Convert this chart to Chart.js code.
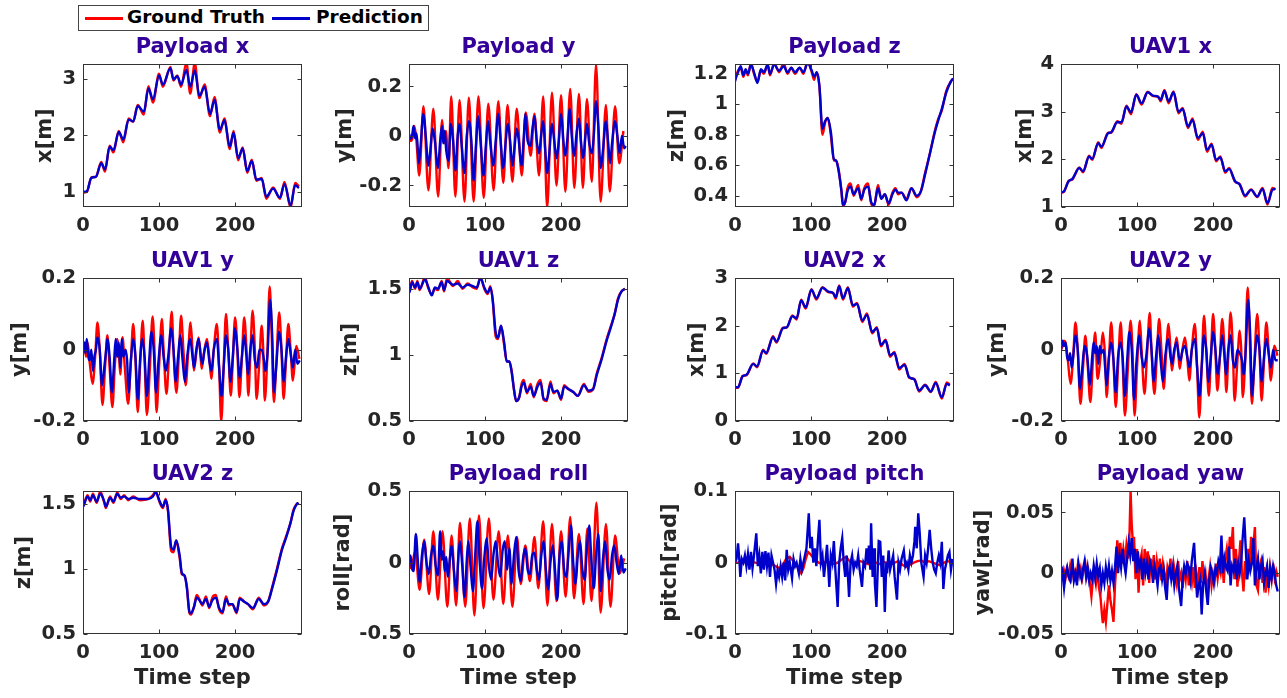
<!DOCTYPE html>
<html><head><meta charset="utf-8">
<script src="https://cdn.jsdelivr.net/npm/chart.js@4/dist/chart.umd.min.js"></script>
<style>
html,body{margin:0;padding:0;background:#fff;}
body{width:1287px;height:698px;overflow:hidden;position:relative;font-family:"DejaVu Sans";}
#lg{position:absolute;left:78px;top:5px;width:349px;height:24px;border:1px solid #444;background:#fff;font:bold 18.5px "DejaVu Sans";color:#000;}
#lg span{position:absolute;white-space:nowrap;}
</style></head>
<body>
<div id="lg">
  <span style="left:6px;top:11px;width:38px;height:2.5px;background:#ff0000"></span>
  <span style="left:48px;top:0px;">Ground Truth</span>
  <span style="left:193px;top:11px;width:38px;height:2.5px;background:#0000cc"></span>
  <span style="left:237px;top:0px;">Prediction</span>
</div>
<script>
// ---------- labels / ticks ----------
const titles = ['Payload x','Payload y','Payload z','UAV1 x','UAV1 y','UAV1 z','UAV2 x','UAV2 y','UAV2 z','Payload roll','Payload pitch','Payload yaw'];
const yLabels = ['x[m]','y[m]','z[m]','x[m]','y[m]','z[m]','x[m]','y[m]','z[m]','roll[rad]','pitch[rad]','yaw[rad]'];
const xLabel = 'Time step';
const xTicks = [0,100,200];
const xMax = 288;
const yTicksList = [[1,2,3],[-0.2,0,0.2],[0.4,0.6,0.8,1,1.2],[1,2,3,4],[-0.2,0,0.2],[0.5,1,1.5],[0,1,2,3],[-0.2,0,0.2],[0.5,1,1.5],[-0.5,0,0.5],[-0.1,0,0.1],[-0.05,0,0.05]];
const yMin = [0.735,-0.287,0.326,1,-0.2,0.5,0,-0.2,0.5,-0.5,-0.1,-0.05];
const yMax = [3.26,0.29,1.263,4,0.2,1.58,3,0.2,1.6,0.5,0.1,0.0675];

// ---------- data: [time step, value] ----------
const payloadX_gt = [[0,0.99],[5,1.0],[11,1.26],[17,1.27],[24,1.53],[29,1.36],[35,1.82],[40,1.70],[47,2.08],[53,1.88],[60,2.30],[66,2.24],[72,2.54],[80,2.37],[86,2.87],[92,2.58],[100,3.09],[105,2.86],[115,3.21],[119,2.97],[124,3.06],[129,2.86],[136,3.29],[141,2.74],[147,3.28],[153,2.66],[160,2.90],[167,2.34],[173,2.68],[180,2.05],[186,2.30],[193,1.76],[198,2.08],[204,1.56],[210,1.79],[216,1.34],[222,1.57],[228,1.20],[235,1.25],[241,0.88],[250,1.08],[259,0.88],[265,1.18],[273,0.72],[279,1.16],[284,1.10]];
const payloadX_pred = [[0,1.0],[5,1.01],[11,1.25],[17,1.27],[24,1.51],[29,1.40],[35,1.80],[40,1.74],[47,2.06],[53,1.93],[60,2.28],[66,2.25],[72,2.52],[80,2.42],[86,2.83],[92,2.64],[100,3.06],[105,2.90],[115,3.19],[119,2.99],[124,3.05],[129,2.90],[136,3.16],[141,2.86],[147,3.15],[153,2.70],[160,2.86],[167,2.38],[173,2.63],[180,2.10],[186,2.27],[193,1.80],[198,2.05],[204,1.60],[210,1.77],[216,1.37],[222,1.55],[228,1.22],[235,1.23],[241,0.92],[250,1.06],[259,0.90],[265,1.14],[273,0.76],[279,1.12],[284,1.07]];

const payloadY_gt = [[0,0.0],[2,-0.02],[4.5,-0.01],[7,0.04],[9.5,-0.01],[13.5,-0.16],[19,0.12],[25.5,-0.22],[32,0.11],[38.3,-0.245],[43.5,0.065],[46.5,-0.03],[48.5,0.02],[52,-0.13],[55.5,0.16],[61,-0.245],[66.5,0.145],[73,-0.265],[78.7,0.155],[85,-0.265],[91.3,0.16],[98.3,-0.25],[104.3,0.13],[111.3,-0.22],[117.4,0.14],[124,-0.19],[129.6,0.125],[136,-0.185],[141.7,0.11],[148.3,-0.16],[153.5,0.095],[160,-0.08],[165,0.09],[171,-0.16],[176.5,0.16],[181.7,-0.29],[188,0.175],[194,-0.2],[200,0.165],[205.6,-0.225],[212,0.19],[217.4,-0.21],[223.5,0.17],[228.7,-0.21],[234,0.15],[240.4,-0.185],[246,0.29],[252,-0.265],[259,0.125],[264,-0.225],[271,0.12],[276.5,-0.11],[282,0.02]];
const payloadY_pred = [[0,0.01],[2,-0.01],[4,0.0],[6,0.04],[8,-0.01],[10,0.01],[13,-0.11],[15,-0.05],[19,0.09],[22,0.0],[25.5,-0.12],[28,-0.06],[31,0.03],[34,-0.02],[38,-0.13],[41,-0.02],[43.5,0.04],[45,-0.03],[47,0.02],[49,-0.06],[52,-0.1],[55,0.05],[58,-0.02],[61,-0.14],[64,0.0],[66.5,0.05],[69,-0.03],[73,-0.15],[76,0.0],[79,0.06],[82,-0.02],[85,-0.18],[88,-0.04],[91,0.08],[94,-0.02],[98,-0.16],[101,-0.04],[104,0.06],[107,-0.03],[111,-0.12],[114,-0.02],[117.5,0.09],[120,0.0],[124,-0.13],[127,-0.03],[130,0.05],[133,-0.02],[136,-0.12],[139,-0.04],[141.5,0.03],[144,-0.01],[148,-0.12],[151,0.0],[153,0.09],[156,-0.02],[160,-0.04],[162,0.02],[165,0.08],[168,-0.02],[171,-0.07],[174,0.01],[176.5,0.06],[179,-0.05],[182,-0.15],[185,-0.05],[188,0.05],[191,-0.02],[194,-0.09],[197,-0.02],[200,0.09],[203,-0.02],[205.5,-0.08],[208,-0.02],[211.5,0.11],[214,0.0],[217.5,-0.08],[220,0.0],[223.5,0.07],[226,-0.02],[229,-0.09],[232,0.0],[234,0.05],[237,-0.03],[240.5,-0.07],[243,0.0],[246,0.14],[249,0.04],[252,-0.13],[255,-0.06],[259,0.06],[262,-0.03],[264.5,-0.11],[267,-0.03],[271,0.06],[274,0.0],[277,-0.07],[280,0.0],[283,-0.05],[285,-0.04]];

const payloadZ_gt = [[0,1.16],[1,1.18],[4,1.22],[7.5,1.24],[11,1.18],[14,1.22],[17,1.19],[21,1.27],[25,1.20],[29.5,1.15],[34,1.22],[38,1.20],[43,1.26],[46,1.19],[51.5,1.27],[58,1.21],[64,1.27],[69,1.20],[74,1.24],[79,1.20],[85,1.24],[90,1.20],[95.5,1.28],[101,1.21],[104,1.16],[107.5,1.21],[111,1.12],[115,0.80],[118.5,0.88],[122,0.91],[126,0.80],[130,0.63],[133,0.63],[136,0.58],[140,0.43],[142,0.33],[145,0.36],[148,0.45],[152,0.48],[156,0.40],[162,0.47],[166,0.37],[170,0.45],[175,0.48],[179,0.35],[183,0.33],[188,0.47],[192.5,0.38],[197,0.41],[202,0.34],[207,0.42],[211,0.45],[214.5,0.41],[219,0.42],[225.5,0.38],[232,0.45],[239,0.39],[244.5,0.43],[250,0.55],[256,0.67],[263,0.83],[267,0.90],[272,0.96],[278,1.09],[284,1.15],[287,1.17]];
const payloadZ_pred = [[0,1.15],[1,1.17],[4,1.21],[7.5,1.25],[11,1.19],[14,1.23],[17,1.20],[21,1.26],[25,1.21],[29.5,1.14],[34,1.23],[38,1.21],[43,1.26],[46,1.20],[51.5,1.26],[58,1.22],[64,1.25],[69,1.21],[74,1.24],[79,1.21],[85,1.24],[90,1.21],[95.5,1.27],[101,1.22],[104,1.18],[107.5,1.21],[111,1.12],[115,0.84],[118.5,0.89],[122,0.91],[126,0.82],[130,0.64],[133,0.63],[136,0.57],[140,0.43],[142,0.34],[145,0.36],[148,0.43],[152,0.46],[156,0.41],[162,0.45],[166,0.38],[170,0.44],[175,0.46],[179,0.36],[183,0.34],[188,0.45],[192.5,0.38],[197,0.41],[202,0.35],[207,0.41],[211,0.44],[214.5,0.42],[219,0.42],[225.5,0.37],[232,0.45],[239,0.40],[244.5,0.43],[250,0.54],[256,0.67],[263,0.82],[267,0.89],[272,0.97],[278,1.08],[284,1.15],[287,1.17]];

const uav1X_gt = [[1,1.30],[4,1.32],[10,1.55],[15,1.58],[24,1.83],[29,1.73],[37,2.08],[41,1.99],[49,2.36],[53,2.24],[62,2.56],[66,2.56],[74,2.80],[79.5,2.75],[86,3.13],[92,2.95],[99,3.37],[106,3.15],[114,3.42],[121,3.33],[127.5,3.32],[131,3.22],[136,3.46],[141.5,3.18],[148,3.43],[154.5,2.97],[160,3.08],[167,2.66],[173,2.86],[180,2.41],[186.5,2.58],[192,2.16],[198,2.33],[204,1.96],[209.5,2.06],[216,1.72],[221,1.82],[229,1.53],[235,1.48],[242,1.22],[250,1.37],[258,1.21],[265,1.40],[271.5,1.05],[278,1.40],[282,1.37]];
const uav1X_pred = [[1,1.31],[4,1.33],[10,1.54],[15,1.59],[24,1.82],[29,1.75],[37,2.06],[41,2.01],[49,2.34],[53,2.27],[62,2.55],[66,2.57],[74,2.78],[79.5,2.78],[86,3.11],[92,2.99],[99,3.36],[106,3.18],[114,3.41],[121,3.34],[127.5,3.32],[131,3.25],[136,3.44],[141.5,3.22],[148,3.41],[154.5,3.00],[160,3.06],[167,2.69],[173,2.83],[180,2.45],[186.5,2.55],[192,2.20],[198,2.31],[204,1.99],[209.5,2.04],[216,1.75],[221,1.80],[229,1.54],[235,1.47],[242,1.24],[250,1.36],[258,1.22],[265,1.38],[271.5,1.08],[278,1.36],[282,1.38]];

const uav1Y_gt = [[0,0.0],[2,0.01],[4,-0.02],[6,0.02],[9,-0.04],[12.6,-0.096],[16,-0.02],[19,0.076],[22,0.0],[25.6,-0.155],[29,-0.05],[32,0.04],[35,-0.05],[38.6,-0.161],[42,-0.04],[45,0.03],[47,0.0],[49,-0.07],[52,0.035],[55,-0.05],[59.4,-0.152],[63,-0.03],[66,0.072],[69,-0.03],[72,-0.175],[75,-0.05],[78.5,0.081],[81,-0.03],[84,-0.183],[88,-0.05],[91.5,0.093],[94,0.0],[96.7,-0.175],[100,-0.05],[103.7,0.086],[106,0.0],[109.8,-0.124],[113,-0.02],[116.7,0.106],[119,0.0],[122.8,-0.121],[126,-0.02],[129,0.095],[132,0.0],[135,-0.1],[138,-0.02],[141.4,0.076],[144,0.0],[145.8,-0.059],[149,-0.01],[152,0.034],[154,0.0],[156,-0.054],[159,-0.01],[163,0.03],[166,-0.02],[168.7,-0.082],[172,0.0],[176,0.072],[179,-0.05],[181.8,-0.2],[185,-0.05],[188,0.1],[191,0.0],[194.4,-0.129],[197,-0.03],[200,0.09],[203,0.0],[205.6,-0.133],[209,-0.02],[212,0.09],[215,0.0],[217.4,-0.129],[220,-0.02],[223,0.109],[226,0.0],[228.2,-0.138],[232,-0.03],[235,0.067],[237,0.0],[239,-0.143],[242,-0.04],[245.5,0.177],[248,0.05],[251,-0.147],[254,-0.05],[258,0.104],[261,0.0],[263.8,-0.138],[267,-0.03],[270,0.072],[273,0.0],[276,-0.087],[279,-0.02],[280.5,0.01],[284.6,-0.026]];
const uav1Y_pred = [[0,0.0],[2,0.02],[3,-0.01],[5,0.03],[7,-0.02],[9,-0.03],[11,0.0],[13,-0.06],[15,-0.02],[17,0.0],[19,0.035],[22,0.0],[25,-0.1],[28,-0.05],[31,0.01],[32,0.03],[35,-0.02],[38,-0.12],[41,-0.03],[43,0.03],[45,-0.02],[47,0.02],[49,-0.05],[51,0.03],[53,-0.02],[56,0.0],[58,-0.03],[60,-0.12],[63,-0.03],[66,0.03],[69,-0.02],[72,-0.14],[75,-0.03],[78,0.03],[81,-0.02],[84,-0.13],[87,-0.03],[90,0.05],[93,0.0],[96,-0.12],[99,-0.04],[103,0.04],[106,-0.02],[109,-0.06],[112,-0.02],[116,0.06],[119,0.0],[122,-0.09],[125,-0.02],[128,0.04],[131,-0.03],[134,-0.09],[137,-0.02],[141,0.03],[144,-0.02],[146,-0.05],[149,0.0],[152,0.03],[155,-0.02],[157,-0.04],[160,0.0],[163,0.02],[166,-0.03],[169,-0.06],[172,0.0],[176,0.03],[179,-0.05],[182,-0.13],[185,-0.05],[188,0.04],[191,0.0],[194,-0.09],[197,-0.02],[200,0.06],[203,0.0],[206,-0.08],[209,-0.02],[212,0.04],[215,-0.02],[217,-0.07],[220,0.0],[223,0.04],[226,-0.03],[229,-0.05],[232,0.0],[235,0.0],[238,-0.03],[240,-0.06],[243,0.0],[246,0.14],[249,0.03],[251,-0.12],[254,-0.05],[258,0.05],[261,0.0],[264,-0.09],[267,-0.02],[270,0.03],[273,-0.01],[276,-0.05],[279,0.0],[282,-0.04],[285,-0.03]];

const uav1Z_gt = [[0,1.48],[1,1.49],[4,1.56],[8,1.50],[11,1.56],[14,1.49],[21,1.59],[25,1.51],[30,1.46],[34,1.50],[38,1.49],[43,1.56],[46,1.48],[50,1.58],[58,1.52],[64,1.56],[70.5,1.50],[77,1.54],[84,1.51],[89,1.50],[94,1.59],[99,1.50],[103.5,1.46],[107,1.52],[110,1.42],[114,1.14],[117,1.12],[121,1.22],[125,1.08],[128.5,0.95],[132,0.95],[135,0.88],[138,0.74],[141,0.65],[145,0.68],[148,0.78],[151,0.81],[155,0.71],[160,0.78],[164,0.68],[169,0.78],[173,0.81],[177,0.66],[181,0.65],[186,0.80],[190,0.71],[195,0.73],[200,0.66],[204,0.77],[210,0.74],[216,0.72],[222,0.69],[230,0.78],[236,0.72],[242,0.74],[247,0.86],[253.5,0.98],[260,1.12],[265,1.21],[270.5,1.31],[275,1.43],[279.5,1.48],[284,1.50]];
const uav1Z_pred = [[0,1.47],[1,1.48],[4,1.55],[8,1.51],[11,1.55],[14,1.50],[21,1.57],[25,1.52],[30,1.45],[34,1.51],[38,1.50],[43,1.55],[46,1.49],[50,1.56],[58,1.53],[64,1.54],[70.5,1.51],[77,1.53],[84,1.52],[89,1.51],[94,1.58],[99,1.51],[103.5,1.47],[107,1.51],[110,1.42],[114,1.17],[117,1.13],[121,1.22],[125,1.10],[128.5,0.95],[132,0.95],[135,0.87],[138,0.74],[141,0.65],[145,0.68],[148,0.76],[151,0.79],[155,0.72],[160,0.76],[164,0.69],[169,0.76],[173,0.79],[177,0.67],[181,0.66],[186,0.78],[190,0.72],[195,0.73],[200,0.67],[204,0.76],[210,0.74],[216,0.72],[222,0.69],[230,0.77],[236,0.73],[242,0.74],[247,0.85],[253.5,0.97],[260,1.11],[265,1.20],[270.5,1.31],[275,1.42],[279.5,1.48],[284,1.50]];

const uav2X_gt = [[1,0.70],[4,0.70],[10,0.95],[15,0.96],[24,1.21],[29,1.13],[37,1.50],[41,1.41],[50,1.78],[54.5,1.65],[63,1.96],[68,1.96],[75.5,2.22],[81,2.13],[87,2.55],[93,2.36],[100.5,2.77],[107,2.55],[115,2.81],[122.5,2.71],[129,2.69],[132.5,2.57],[137,2.85],[142,2.55],[148.5,2.81],[155,2.40],[160.5,2.48],[167.5,2.08],[173.5,2.26],[180.5,1.84],[186.5,1.97],[192,1.57],[198,1.71],[204,1.35],[209.5,1.45],[216,1.08],[223,1.20],[229,0.91],[236,0.88],[242,0.62],[250,0.76],[257.5,0.61],[264,0.82],[272,0.47],[278.5,0.81],[282.5,0.76]];
const uav2X_pred = [[1,0.71],[4,0.71],[10,0.94],[15,0.97],[24,1.20],[29,1.15],[37,1.48],[41,1.43],[50,1.76],[54.5,1.67],[63,1.95],[68,1.97],[75.5,2.20],[81,2.16],[87,2.53],[93,2.39],[100.5,2.76],[107,2.58],[115,2.80],[122.5,2.72],[129,2.69],[132.5,2.60],[137,2.83],[142,2.58],[148.5,2.79],[155,2.43],[160.5,2.46],[167.5,2.11],[173.5,2.23],[180.5,1.87],[186.5,1.95],[192,1.60],[198,1.69],[204,1.38],[209.5,1.43],[216,1.11],[223,1.18],[229,0.92],[236,0.87],[242,0.64],[250,0.75],[257.5,0.62],[264,0.80],[272,0.50],[278.5,0.78],[282.5,0.75]];

const uav2Y_gt = [[0,0.0],[2,0.01],[4,0.025],[6,0.02],[9,-0.03],[12.6,-0.096],[16,-0.02],[19,0.076],[22,0.0],[25.6,-0.152],[29,-0.05],[32,0.039],[35,-0.04],[38.6,-0.147],[42,-0.03],[45,0.048],[48,-0.082],[52,-0.02],[55,0.048],[58,-0.02],[60,-0.133],[63,-0.03],[66,0.076],[69,-0.03],[72,-0.161],[75,-0.05],[78.5,0.076],[81,-0.03],[84,-0.185],[88,-0.05],[91.5,0.081],[94,0.0],[96.7,-0.185],[100,-0.05],[103.7,0.081],[106,0.0],[109.8,-0.124],[113,-0.02],[116.7,0.103],[119,0.0],[122.8,-0.124],[126,-0.02],[129,0.086],[132,0.0],[135,-0.11],[138,-0.02],[141.4,0.072],[144,0.0],[145.8,-0.059],[149,-0.01],[152,0.034],[154,0.0],[156,-0.054],[159,-0.01],[163,0.034],[166,-0.02],[168.7,-0.087],[172,0.0],[176,0.072],[179,-0.05],[181.8,-0.19],[185,-0.05],[188,0.095],[191,0.0],[194.4,-0.129],[197,-0.03],[200,0.1],[203,0.0],[205.6,-0.115],[209,-0.02],[212,0.086],[215,0.0],[217.4,-0.119],[220,-0.02],[223,0.104],[226,0.0],[228.2,-0.143],[232,-0.03],[235,0.053],[237,0.0],[239,-0.133],[242,-0.04],[245.5,0.174],[248,0.05],[251,-0.152],[254,-0.05],[258,0.1],[261,0.0],[263.8,-0.143],[267,-0.03],[270,0.076],[273,0.0],[276,-0.087],[279,-0.02],[280.5,0.011],[284.6,-0.017]];
const uav2Y_pred = [[0,0.0],[2,0.025],[4,0.01],[6,0.02],[8,-0.02],[10,-0.03],[12,-0.01],[14,-0.05],[16,-0.02],[19,0.04],[22,0.0],[25,-0.11],[28,-0.05],[31,0.01],[33,0.0],[35,-0.03],[38,-0.1],[41,-0.02],[43,0.02],[45,-0.01],[47,0.01],[49,-0.04],[51,0.01],[53,-0.01],[56,0.0],[58,-0.05],[60,-0.1],[63,-0.02],[66,0.02],[69,-0.03],[72,-0.12],[75,-0.02],[78,0.02],[81,-0.02],[84,-0.13],[87,-0.03],[90,0.05],[93,0.0],[96,-0.14],[99,-0.04],[103,0.04],[106,-0.02],[109,-0.05],[112,-0.02],[116,0.06],[119,0.0],[122,-0.09],[125,-0.02],[128,0.04],[131,-0.03],[134,-0.09],[137,-0.02],[141,0.03],[144,-0.02],[146,-0.04],[149,0.0],[152,0.02],[155,-0.02],[157,-0.03],[160,0.0],[163,0.01],[166,-0.02],[169,-0.05],[172,0.0],[176,0.03],[179,-0.05],[182,-0.13],[185,-0.05],[188,0.04],[191,0.0],[194,-0.09],[197,-0.02],[200,0.05],[203,0.0],[206,-0.07],[209,-0.02],[212,0.04],[215,-0.02],[217,-0.07],[220,0.0],[223,0.04],[226,-0.03],[229,-0.05],[232,0.0],[235,-0.01],[238,-0.03],[240,-0.07],[243,0.0],[246,0.14],[249,0.03],[251,-0.13],[254,-0.05],[258,0.04],[261,0.0],[264,-0.09],[267,-0.02],[270,0.03],[273,-0.01],[276,-0.05],[279,0.0],[282,-0.03],[285,-0.03]];

const uav2Z_gt = [[0,1.49],[1,1.50],[6,1.57],[9.5,1.52],[13,1.58],[18,1.51],[22.6,1.60],[28,1.51],[30,1.47],[35.6,1.56],[40,1.51],[45,1.59],[49.6,1.54],[54,1.57],[59.6,1.53],[66,1.56],[75,1.53],[85.6,1.54],[92,1.57],[95.6,1.60],[101,1.51],[105,1.47],[108.7,1.54],[111.7,1.45],[116,1.14],[119,1.13],[122.6,1.22],[127,1.09],[130,0.96],[133.5,0.95],[136.5,0.87],[140,0.66],[142,0.65],[146,0.71],[149.5,0.80],[153,0.77],[157,0.72],[161.7,0.79],[166,0.70],[170,0.78],[174.7,0.80],[179,0.69],[183.5,0.66],[188,0.79],[192,0.72],[196.5,0.73],[202,0.66],[206,0.78],[211.7,0.75],[217,0.73],[223.5,0.69],[231,0.78],[238,0.72],[243.5,0.75],[248.7,0.86],[255,1.00],[261.7,1.16],[267,1.25],[272.6,1.35],[277,1.46],[281,1.50],[283.5,1.51]];
const uav2Z_pred = [[0,1.48],[1,1.49],[6,1.56],[9.5,1.53],[13,1.57],[18,1.52],[22.6,1.58],[28,1.52],[30,1.48],[35.6,1.55],[40,1.52],[45,1.58],[49.6,1.55],[54,1.56],[59.6,1.54],[66,1.55],[75,1.54],[85.6,1.54],[92,1.56],[95.6,1.59],[101,1.52],[105,1.48],[108.7,1.53],[111.7,1.46],[116,1.17],[119,1.15],[122.6,1.22],[127,1.11],[130,0.97],[133.5,0.95],[136.5,0.86],[140,0.67],[142,0.66],[146,0.71],[149.5,0.78],[153,0.76],[157,0.73],[161.7,0.77],[166,0.71],[170,0.76],[174.7,0.78],[179,0.70],[183.5,0.67],[188,0.77],[192,0.73],[196.5,0.73],[202,0.67],[206,0.77],[211.7,0.75],[217,0.73],[223.5,0.70],[231,0.77],[238,0.73],[243.5,0.75],[248.7,0.85],[255,0.99],[261.7,1.15],[267,1.24],[272.6,1.35],[277,1.45],[281,1.50],[283.5,1.51]];

const roll_gt = [[0,0.0],[3,-0.04],[8,0.08],[14,-0.19],[20,0.16],[26.5,-0.22],[32,0.22],[38,-0.26],[44,0.22],[50.4,-0.31],[56,0.19],[62,-0.30],[67,0.28],[74,-0.31],[80,0.31],[86,-0.37],[92,0.33],[98,-0.32],[105,0.31],[111,-0.26],[118,0.22],[124,-0.29],[130,0.19],[136,-0.31],[142,0.18],[147,-0.15],[153,0.12],[159,-0.13],[165,0.18],[170,-0.18],[176.5,0.29],[182,-0.30],[188,0.27],[194,-0.27],[200,0.22],[206,-0.24],[212,0.32],[217,-0.25],[223.5,0.20],[229.6,-0.29],[234.5,0.24],[240,-0.27],[246.5,0.42],[252,-0.35],[259,0.27],[265,-0.31],[271,0.19],[277,-0.075],[283,0.03]];
const roll_pred = [[0,0.0],[2,0.05],[4,-0.04],[6,-0.06],[9,0.2],[12,-0.02],[14,-0.14],[17,0.05],[20,0.15],[23,0.0],[26,-0.08],[29,0.05],[32,0.12],[35,-0.02],[38,-0.09],[41,0.22],[43,0.02],[45,0.08],[47,-0.06],[49,0.04],[51,-0.1],[54,0.04],[56,0.12],[59,-0.05],[62,-0.2],[65,0.05],[67,0.15],[70,-0.02],[73,-0.24],[76,0.02],[78,0.15],[81,-0.03],[84,-0.2],[87,0.05],[90,0.29],[93,0.0],[96,-0.18],[99,0.03],[102,0.17],[105,-0.02],[108,-0.12],[111,0.05],[114,0.15],[117,0.0],[120,-0.1],[123,0.08],[126,0.15],[129,-0.05],[132,0.1],[135,-0.15],[138,0.05],[141,0.18],[144,-0.05],[147,-0.13],[150,0.03],[153,0.1],[156,-0.05],[159,-0.08],[162,0.05],[165,0.07],[168,-0.05],[171,-0.12],[174,0.05],[177,0.15],[180,-0.05],[183,-0.19],[186,0.0],[189,0.12],[192,-0.05],[195,-0.26],[198,0.05],[201,0.15],[204,-0.05],[207,-0.1],[210,0.08],[213,0.26],[216,0.0],[219,-0.15],[222,0.05],[225,0.15],[228,-0.05],[231,-0.12],[234,0.1],[237,0.26],[240,0.0],[243,-0.18],[246,0.05],[249,0.2],[252,-0.2],[255,0.02],[258,0.15],[261,-0.05],[264,-0.12],[267,0.05],[270,0.12],[273,0.0],[276,-0.08],[279,0.05],[282,-0.07],[285,-0.04]];

const pitch_gt = [[0,0.0],[10,0.0],[20,0.002],[30,-0.001],[40,0.0],[50,-0.003],[55,-0.006],[59,-0.008],[63,-0.003],[67,0.005],[72,0.008],[76,0.003],[80,-0.002],[84,-0.01],[87,-0.015],[90,-0.008],[93,0.005],[96,0.015],[99,0.012],[102,0.008],[106,0.003],[110,0.0],[115,-0.002],[120,0.002],[125,0.0],[130,-0.002],[135,0.0],[140,0.004],[146,0.008],[150,0.003],[155,-0.002],[160,0.0],[165,0.002],[170,0.0],[175,-0.002],[180,0.002],[185,0.0],[190,-0.002],[195,0.001],[200,0.0],[205,-0.002],[210,0.0],[215,0.002],[220,-0.003],[225,-0.006],[230,-0.003],[235,0.0],[240,0.002],[245,0.003],[250,0.0],[255,0.002],[260,0.0],[265,-0.002],[270,-0.004],[275,0.0],[280,0.002],[286,0.0]];
const pitch_pred = [[0,0.0],[2,0.005],[4,0.027],[6,0.0],[7,-0.02],[9,0.005],[11,0.0],[13,0.01],[15,-0.005],[17,0.012],[19,-0.01],[21,0.015],[23,-0.008],[25,0.01],[28,0.041],[30,-0.005],[32,0.01],[34,-0.015],[36,0.015],[38,-0.01],[40,0.016],[42,-0.005],[44,0.014],[46,-0.02],[48,0.01],[50,0.0],[52,-0.01],[54,-0.03],[56,-0.01],[58,-0.02],[60,-0.005],[62,-0.02],[64,0.0],[66,-0.025],[68,0.018],[70,-0.01],[72,0.0],[75,-0.022],[77,0.005],[79,-0.005],[81,0.0],[84,-0.015],[86,0.005],[88,-0.01],[90,0.0],[92,0.01],[94,0.02],[97,0.069],[99,0.02],[101,0.036],[103,0.0],[105,0.02],[107,-0.005],[109,0.03],[111,0.06],[113,0.0],[115,0.01],[117,-0.02],[119,0.0],[121,0.025],[124,-0.034],[126,0.01],[128,0.0],[130,0.03],[132,-0.01],[135,-0.062],[137,0.0],[139,0.02],[141,0.034],[143,0.0],[145,-0.02],[147,0.01],[150,-0.048],[152,0.0],[154,0.01],[156,-0.01],[158,0.0],[160,-0.005],[162,0.01],[164,-0.01],[167,-0.034],[169,0.0],[171,-0.005],[173,0.02],[175,0.0],[176,0.024],[178,-0.01],[179,0.055],[181,-0.02],[183,0.02],[184,-0.03],[186,-0.062],[188,0.0],[189,0.03],[191,0.029],[193,-0.02],[195,0.01],[197,-0.069],[199,0.0],[200,-0.015],[202,0.017],[204,-0.01],[206,0.0],[208,0.01],[210,-0.02],[213,-0.052],[215,0.0],[217,-0.01],[219,0.005],[222,0.017],[224,-0.005],[226,0.0],[228,-0.01],[230,0.01],[232,0.0],[234,0.01],[236,0.03],[237,0.05],[239,0.02],[241,0.069],[243,0.04],[245,0.0],[248,-0.02],[250,0.01],[252,0.0],[254,0.02],[256,0.046],[258,0.02],[260,0.0],[262,-0.01],[264,-0.015],[266,0.0],[268,0.01],[270,0.0],[272,0.029],[274,-0.037],[276,-0.01],[278,0.0],[280,0.01],[282,0.015],[284,-0.01],[286,0.005]];

const yaw_gt = [[0,0.0],[2,-0.003],[4,0.002],[6,-0.004],[8,0.003],[10,-0.002],[12,0.006],[14,-0.003],[16,0.004],[18,0.0],[20,-0.005],[22,0.006],[24,-0.002],[26,0.004],[28,-0.004],[30,0.003],[32,0.008],[34,-0.003],[36,0.002],[38,-0.008],[40,-0.019],[42,-0.005],[44,0.002],[46,-0.008],[48,0.003],[50,-0.012],[52,-0.02],[54,-0.035],[55,-0.041],[57,-0.03],[59,-0.04],[61,-0.025],[63,-0.01],[65,-0.022],[67,-0.03],[69,-0.04],[71,-0.01],[72,0.0],[74,0.027],[76,0.015],[78,0.025],[80,0.008],[82,0.02],[84,0.01],[86,0.023],[88,0.012],[90,0.03],[91.5,0.068],[93,0.04],[95,0.02],[96,0.03],[98,-0.005],[100,0.02],[102,-0.016],[104,0.01],[106,0.016],[108,-0.01],[110,0.02],[112,0.005],[114,0.018],[116,-0.008],[118,0.012],[120,0.0],[122,0.015],[124,-0.005],[126,0.01],[128,0.0],[130,0.012],[132,-0.006],[134,0.008],[136,0.0],[138,-0.01],[140,0.005],[142,0.0],[144,0.012],[146,-0.005],[148,0.008],[150,0.0],[152,-0.008],[154,0.01],[156,-0.005],[158,0.0],[160,-0.012],[162,0.005],[164,-0.005],[166,0.01],[168,-0.01],[170,0.0],[172,-0.008],[174,0.005],[176,-0.012],[178,0.0],[180,-0.01],[182,0.005],[184,-0.008],[186,0.01],[188,-0.005],[190,0.0],[192,-0.015],[194,-0.005],[196,0.005],[198,-0.01],[200,0.0],[202,-0.006],[204,0.008],[206,-0.004],[208,0.006],[210,0.0],[212,0.01],[214,-0.008],[216,0.012],[218,0.02],[220,0.005],[222,0.03],[224,0.02],[226,0.038],[228,-0.005],[230,0.02],[232,-0.011],[234,0.01],[236,0.027],[238,0.0],[240,-0.015],[242,0.01],[244,-0.005],[246,0.02],[248,0.005],[250,0.03],[252,0.015],[255,0.038],[257,-0.01],[259,-0.014],[261,0.005],[263,0.01],[265,-0.008],[267,0.005],[269,-0.016],[271,0.0],[273,-0.01],[275,0.005],[277,-0.005],[279,0.008],[281,-0.004],[283,0.002],[285,-0.003]];
const yaw_pred = [[0,0.0],[2,0.003],[3,-0.006],[4,-0.012],[6,0.0],[8,0.005],[10,-0.003],[12,-0.006],[14,0.003],[15,0.012],[17,-0.006],[19,0.0],[21,-0.01],[23,0.008],[25,0.0],[27,-0.005],[29,0.004],[31,0.01],[33,-0.003],[35,0.005],[37,-0.006],[39,0.0],[41,-0.005],[43,0.006],[45,-0.004],[47,0.008],[49,-0.002],[51,0.004],[53,-0.01],[55,0.0],[57,-0.008],[59,0.005],[61,-0.004],[63,0.006],[65,-0.006],[67,0.002],[69,-0.008],[71,0.005],[73,0.022],[75,0.0],[77,0.015],[79,0.005],[81,0.02],[83,0.008],[85,0.0],[87,0.012],[89,0.025],[91,0.015],[93,0.029],[95,0.01],[97,0.02],[99,0.0],[101,0.018],[103,0.005],[105,0.01],[107,-0.005],[109,0.012],[111,0.0],[113,0.008],[115,-0.005],[117,0.01],[119,0.005],[121,-0.008],[123,0.006],[125,0.0],[127,-0.01],[129,0.004],[131,0.006],[133,-0.005],[135,0.003],[137,-0.012],[139,-0.022],[141,0.002],[143,0.005],[145,-0.005],[147,0.004],[149,-0.01],[151,0.0],[153,0.006],[155,-0.012],[158,-0.027],[160,-0.005],[162,0.006],[164,0.0],[166,0.008],[168,0.005],[170,-0.005],[172,0.01],[175,0.025],[177,0.0],[179,-0.02],[181,-0.01],[183,-0.005],[185,-0.034],[187,-0.008],[189,0.0],[191,-0.015],[193,-0.026],[195,-0.005],[197,0.005],[199,0.0],[201,-0.008],[203,0.004],[205,0.0],[207,0.01],[209,0.005],[211,0.031],[213,0.0],[215,0.012],[217,0.005],[219,0.002],[221,0.022],[223,-0.01],[225,0.006],[227,0.002],[229,0.012],[231,-0.005],[233,0.008],[235,0.0],[237,0.01],[239,0.03],[241,0.046],[243,0.02],[245,-0.005],[247,0.01],[249,0.002],[251,0.008],[253,0.029],[255,-0.01],[257,0.004],[259,0.012],[261,-0.005],[263,0.006],[265,0.011],[267,-0.008],[269,0.0],[271,0.006],[273,-0.012],[275,0.004],[277,-0.004],[279,0.006],[281,0.0],[283,-0.01],[285,-0.015]];

const gtSeries = [payloadX_gt,payloadY_gt,payloadZ_gt,uav1X_gt,uav1Y_gt,uav1Z_gt,uav2X_gt,uav2Y_gt,uav2Z_gt,roll_gt,pitch_gt,yaw_gt];
const predSeries = [payloadX_pred,payloadY_pred,payloadZ_pred,uav1X_pred,uav1Y_pred,uav1Z_pred,uav2X_pred,uav2Y_pred,uav2Z_pred,roll_pred,pitch_pred,yaw_pred];

// ---------- layout / style ----------
const FONT = 'DejaVu Sans';
const RED = '#ff0000', BLUE = '#0000cc', TITLE_COLOR = '#330099', TEXT = '#262626', AXIS = '#333333';
const colLeft = [83, 409, 735, 1061];
const rowTop = [64, 278, 491];
const plotW = 219, plotH = 143;
const AXW = 92, TOPH = 30, RIGHT = 8;
const labelOffset = [37, 63, 57, 35, 62, 58, 37, 63, 58, 65, 64, 77];
const noisy = [false,false,false,false,false,false,false,false,false,false,true,true];

const boxPlugin = {
  id: 'matlabBox',
  afterDraw(chart) {
    const {ctx, chartArea: a, scales} = chart;
    const L = Math.round(a.left) + 0.5, T = Math.round(a.top) + 0.5;
    const R = Math.round(a.right) - 0.5, B = Math.round(a.bottom) - 0.5;
    ctx.save();
    ctx.strokeStyle = AXIS; ctx.lineWidth = 1;
    ctx.strokeRect(L, T, R - L, B - T);
    const TL = 4;
    ctx.beginPath();
    scales.x.ticks.forEach(t => {
      const px = Math.round(scales.x.getPixelForValue(t.value)) + 0.5;
      ctx.moveTo(px, B); ctx.lineTo(px, B - TL);
      ctx.moveTo(px, T); ctx.lineTo(px, T + TL);
    });
    scales.y.ticks.forEach(t => {
      const py = Math.round(scales.y.getPixelForValue(t.value)) + 0.5;
      ctx.moveTo(L, py); ctx.lineTo(L + TL, py);
      ctx.moveTo(R, py); ctx.lineTo(R - TL, py);
    });
    ctx.stroke();
    ctx.restore();
  }
};

function makeChart(i) {
  const r = Math.floor(i / 4), c = i % 4;
  const bottomH = r === 2 ? 62 : 35;
  const W = AXW + plotW + RIGHT, H = TOPH + plotH + bottomH;
  const cv = document.createElement('canvas');
  cv.width = W; cv.height = H;
  cv.style.cssText = `position:absolute;left:${colLeft[c] - AXW}px;top:${rowTop[r] - TOPH}px;width:${W}px;height:${H}px;`;
  document.body.appendChild(cv);
  const ds = (arr, color, ord) => ({
    data: arr.map(p => ({x: p[0], y: p[1]})),
    borderColor: color, backgroundColor: color, borderWidth: 2.4,
    pointRadius: 0, fill: false, clip: 0, order: ord,
    cubicInterpolationMode: noisy[i] ? 'default' : 'monotone',
    tension: noisy[i] ? 0 : 0.4
  });
  const tickFont = {family: FONT, size: 19.5, weight: 'bold'};
  new Chart(cv, {
    type: 'line',
    // prediction first so it is drawn on top of the ground truth
    data: {datasets: [ds(predSeries[i], BLUE, 0), ds(gtSeries[i], RED, 1)]},
    options: {
      responsive: false, animation: false, devicePixelRatio: 1,
      layout: {padding: {left: 0, right: RIGHT, top: 0, bottom: 0}},
      plugins: {
        legend: {display: false}, tooltip: {enabled: false},
        title: {display: true, text: titles[i], fullSize: false, color: TITLE_COLOR,
          font: {family: FONT, size: 21, weight: 'bold', lineHeight: 1.2}, padding: {top: 1, bottom: 4}}
      },
      scales: {
        x: {
          type: 'linear', min: 0, max: xMax,
          afterBuildTicks: s => { s.ticks = xTicks.map(v => ({value: v})); },
          afterFit: s => { s.height = bottomH; },
          grid: {display: false, drawTicks: false}, border: {display: false},
          ticks: {color: TEXT, font: tickFont, padding: 7, maxRotation: 0, autoSkip: false, callback: v => String(v)},
          title: {display: r === 2, text: xLabel, color: TEXT,
            font: {family: FONT, size: 21, weight: 'bold', lineHeight: 1.2}, padding: {top: 0, bottom: 5}}
        },
        y: {
          type: 'linear', min: yMin[i], max: yMax[i],
          afterBuildTicks: s => { s.ticks = yTicksList[i].map(v => ({value: v})); },
          afterFit: s => { s.width = AXW; },
          grid: {display: false, drawTicks: false}, border: {display: false},
          ticks: {color: TEXT, font: tickFont, padding: 7, autoSkip: false, callback: v => String(v)},
          title: {display: true, text: yLabels[i], color: TEXT,
            font: {family: FONT, size: 21, weight: 'bold', lineHeight: 1.2},
            padding: {top: Math.max(0, AXW - 12.6 - labelOffset[i]), bottom: 0}}
        }
      }
    },
    plugins: [boxPlugin]
  });
}
for (let i = 0; i < 12; i++) makeChart(i);
</script>
</body></html>
